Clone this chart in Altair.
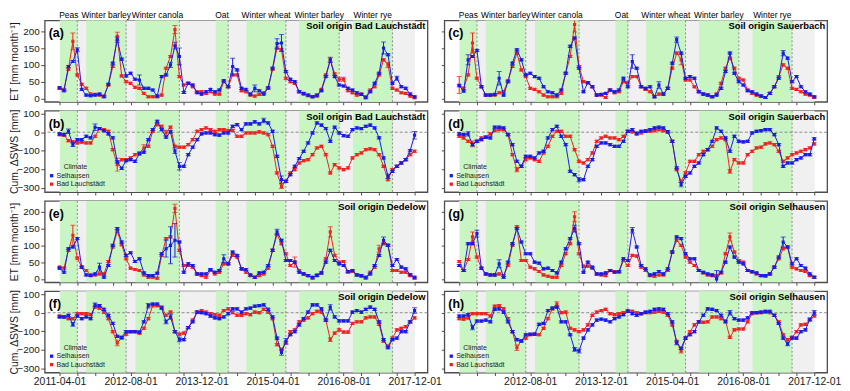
import altair as alt
import pandas as pd

# ---------------- layout / style constants ----------------
W, H = 386, 82
BLUE = "#1a1ae6"
RED = "#ee2222"
GREEN = "#c8f5c2"
GREY_BAND = "#f0f0f0"
FONT = "Liberation Sans"

# ---------------- axes ----------------
MONTHS = list(range(81))            # month index, 0 = 2011-04
X_DOMAIN = [-3.35, 82.9]
X_TICKS = list(range(0, 81, 4))
DATE_POS = [0, 16, 32, 48, 64, 80]
DATE_LABELS = ["2011-04-01", "2012-08-01", "2013-12-01", "2015-04-01", "2016-08-01", "2017-12-01"]
ET_DOMAIN = [-10, 232]
SWS_DOMAIN = [-323, 116]
ET_TICKS = [0, 50, 100, 150, 200]
SWS_TICKS = [-300, -200, -100, 0, 100]

# ---------------- crop periods ----------------
CROPS = ["Peas", "Winter barley", "Winter canola", "Oat", "Winter wheat", "Winter barley", "Winter rye"]
CROP_START = [0.15, 6, 17.1, 35.2, 42.1, 54, 66.1]
CROP_END = [4, 15, 27, 38, 51, 63, 75]
SEASON = [0, 80.1]
CLIMATES = ["Selhausen", "Bad Lauchstädt"]

# ---------------- data (Selhausen climate = blue, Bad Lauchstädt climate = red) ----------------
a_sel = [32, 23, 95, 110, 145, 27, 10, 8, 10, 13, 5,
         42, 105, 175, 117, 67, 75, 57, 55, 30, 30,
         25, 7, 65, 70, 100, 157, 125, 18, 45, 40,
         17, 13, 20, 27, 20, 25, 53, 35, 95, 85,
         30, 27, 13, 30, 23, 13, 32, 90, 163, 165,
         80, 57, 50, 20, 15, 10, 5, 10, 23, 65,
         115, 65, 40, 37, 30, 25, 17, 12, 2, 20,
         45, 75, 150, 130, 45, 60, 35, 30, 13, 5]
a_bad = [30, 27, 87, 170, 70, 42, 30, 13, 12, 10, 7,
         40, 95, 185, 67, 50, 45, 33, 30, 15, 5,
         5, 5, 10, 90, 125, 205, 65, 40, 45, 35,
         20, 20, 15, 20, 13, 13, 50, 35, 70, 70,
         23, 20, 10, 7, 12, 17, 30, 87, 150, 145,
         60, 50, 45, 20, 13, 8, 5, 7, 27, 70,
         115, 73, 57, 57, 23, 17, 10, 13, 5, 25,
         35, 70, 115, 100, 30, 25, 17, 15, 7, 2]
b_sel = [-9, -13, 5, -67, -40, -40, -22, -30, 27, 20, 9,
         -9, -30, -160, -195, -153, -148, -157, -117, -108, -40,
         14, 59, 14, -27, 2, -103, -184, -184, -121, -81,
         -40, -9, -4, -4, -13, -16, -4, -4, 32, 41,
         14, 45, 45, 56, 45, 63, 50, 5, -130, -256,
         -265, -229, -184, -142, -103, -58, -4, 50, 38, 20,
         -49, 27, -4, -18, -22, 14, 23, 20, 32, 38,
         23, -30, -139, -238, -211, -184, -166, -148, -99, -16]
b_bad = [-13, -16, -45, -52, -58, -54, -58, -58, -22, 20, 14,
         5, -94, -175, -148, -148, -139, -121, -112, -85, -76,
         5, 41, 32, -4, 27, -76, -81, -81, -67, -40,
         5, 14, 23, 14, 5, 14, 14, 9, 10, -22,
         -22, -4, -4, -4, 2, -4, -13, -76, -220, -292,
         -265, -220, -202, -166, -153, -148, -121, -85, -76, -121,
         -220, -175, -193, -202, -193, -139, -121, -112, -94, -90,
         -94, -121, -184, -256, -202, -184, -166, -148, -121, -103]
c_sel = [38, 22, 115, 125, 143, 35, 10, 10, 12, 60, 10,
         50, 105, 145, 115, 70, 75, 65, 60, 35, 20,
         17, 10, 25, 75, 155, 180, 90, 20, 47, 35,
         10, 12, 15, 25, 20, 25, 60, 35, 110, 90,
         35, 30, 35, 5, 40, 13, 30, 105, 175, 135,
         60, 65, 60, 20, 13, 10, 5, 10, 30, 80,
         135, 75, 50, 40, 23, 20, 13, 7, 3, 15,
         35, 60, 135, 120, 50, 65, 35, 20, 13, 5]
c_bad = [40, 30, 70, 165, 60, 35, 10, 10, 10, 17, 20,
         53, 95, 135, 85, 65, 30, 27, 20, 10, 5,
         5, 5, 15, 75, 125, 220, 95, 50, 47, 35,
         10, 10, 3, 25, 17, 20, 50, 47, 65, 65,
         35, 27, 20, 5, 13, 13, 30, 90, 135, 115,
         55, 55, 35, 20, 13, 10, 5, 13, 45, 90,
         120, 90, 60, 55, 25, 15, 10, 7, 3, 15,
         35, 65, 100, 90, 30, 27, 20, 13, 10, 3]
d_sel = [-9, -13, -9, -67, -49, -40, -27, -31, 27, 27, 23,
         -13, -67, -157, -184, -130, -130, -139, -112, -103, -31,
         14, 32, -22, -67, -211, -229, -256, -256, -184, -148,
         -76, -58, -58, -67, -76, -76, -49, 5, 14, -9,
         5, 5, 14, 23, 27, 23, 2, -49, -193, -283,
         -238, -220, -184, -166, -121, -94, -49, 23, 5, -31,
         -103, -22, -49, -52, -49, -4, 5, 9, 14, 14,
         -13, -67, -184, -166, -166, -148, -139, -121, -121, -36]
d_bad = [-22, -31, -49, -63, -49, -31, -27, -9, 9, 14, 14,
         -13, -121, -202, -184, -148, -139, -148, -157, -112, -76,
         -22, 5, 5, -22, -22, -94, -157, -166, -148, -112,
         -49, -31, -22, -31, -31, -40, -22, 5, 2, -4,
         -4, 9, 5, 9, 14, 9, 2, -49, -202, -265,
         -220, -157, -157, -121, -103, -94, -76, -40, -31, -40,
         -211, -148, -166, -166, -121, -103, -85, -81, -63, -58,
         -67, -103, -157, -139, -121, -112, -103, -94, -85, -63]
e_sel = [32, 20, 90, 95, 120, 35, 12, 10, 15, 35, 5,
         40, 100, 150, 110, 70, 78, 52, 60, 18, 10,
         10, 17, 75, 90, 100, 115, 110, 20, 45, 40,
         15, 15, 15, 28, 20, 25, 60, 45, 80, 70,
         30, 28, 12, 5, 18, 20, 40, 85, 140, 115,
         55, 55, 50, 20, 15, 10, 5, 10, 18, 50,
         85, 55, 45, 40, 22, 25, 12, 10, 5, 15,
         40, 70, 115, 100, 40, 58, 35, 30, 13, 5]
e_bad = [35, 32, 85, 130, 62, 35, 25, 12, 12, 15, 15,
         52, 95, 142, 102, 60, 32, 28, 25, 12, 5,
         5, 2, 70, 120, 125, 210, 85, 40, 40, 35,
         15, 10, 5, 25, 15, 20, 45, 45, 70, 65,
         30, 20, 10, 5, 10, 15, 32, 85, 132, 105,
         75, 40, 50, 25, 15, 10, 2, 12, 18, 60,
         140, 70, 50, 52, 20, 22, 12, 8, 2, 20,
         35, 90, 105, 100, 25, 25, 20, 20, 10, 2]
f_sel = [-23, -23, -14, -63, -18, -32, -23, -32, 42, 38, 18,
         -14, -58, -128, -133, -102, -102, -102, -105, -49, 38,
         47, 47, 25, -49, -23, -102, -145, -145, -80, -49,
         3, 0, -5, -18, -28, -32, -23, -5, 21, 21,
         3, 21, 25, 35, 38, 42, 18, -23, -137, -215,
         -154, -119, -102, -66, -32, 3, 42, 42, 21, -40,
         30, -23, -44, -44, -44, 3, 12, 3, 18, 30,
         18, -49, -145, -189, -145, -137, -102, -102, -49, 12]
f_bad = [-18, -23, -32, -32, -5, -5, -5, -10, 30, 25, 3,
         -32, -102, -163, -137, -116, -102, -102, -110, -84, -32,
         38, 38, 30, -14, 3, -102, -116, -110, -80, -40,
         3, 12, 3, -5, -10, -14, 12, 21, 0, -14,
         -14, -5, -10, 3, 0, 18, 3, -32, -172, -198,
         -163, -102, -93, -49, -40, -28, -5, 7, 3, -40,
         -145, -110, -93, -105, -105, -58, -49, -49, -28, -23,
         -23, -63, -154, -180, -137, -93, -84, -75, -49, -28]
g_sel = [40, 25, 105, 105, 135, 32, 15, 12, 12, 45, 5,
         50, 105, 150, 110, 75, 75, 50, 47, 30, 32,
         25, 18, 50, 90, 120, 150, 105, 20, 50, 35,
         15, 15, 18, 25, 20, 22, 60, 55, 145, 95,
         40, 30, 12, 15, 22, 15, 30, 80, 125, 120,
         75, 60, 60, 25, 20, 15, 12, 0, 20, 50,
         95, 65, 50, 45, 25, 22, 18, 10, 10, 15,
         35, 65, 110, 95, 45, 60, 40, 32, 15, 5]
g_bad = [52, 25, 58, 125, 65, 32, 15, 12, 12, 15, 10,
         40, 100, 155, 55, 55, 35, 30, 22, 12, 8,
         5, 5, 40, 75, 105, 185, 75, 38, 38, 32,
         15, 12, 10, 25, 22, 20, 55, 40, 70, 68,
         35, 25, 10, 8, 12, 12, 25, 80, 115, 100,
         65, 50, 40, 25, 18, 12, 10, 10, 18, 75,
         125, 80, 55, 50, 25, 20, 15, 10, 8, 15,
         35, 60, 90, 95, 35, 30, 25, 22, 10, 5]
h_sel = [-18, -18, -10, -80, -45, -45, -40, -49, 18, 21, 3,
         -49, -102, -145, -154, -119, -116, -116, -63, -58, 12,
         25, 30, -49, -49, -119, -198, -207, -137, -93, -66,
         -40, -35, -40, -49, -32, -23, -10, 7, -5, -14,
         -5, 3, 7, 18, 21, 18, -5, -49, -163, -192,
         -137, -119, -102, -49, -14, 21, 18, 12, -14, -49,
         0, -32, -40, -40, -28, 0, 0, 3, 7, 7,
         -14, -58, -137, -168, -137, -137, -102, -93, -35, 0]
h_bad = [-32, -35, -28, -5, -5, -5, -5, -18, 35, 38, 21,
         -32, -102, -189, -150, -137, -119, -116, -119, -84, -32,
         21, 47, 0, 3, -84, -93, -102, -93, -66, -14,
         3, 12, 18, -5, -10, -5, 0, 12, 7, 0,
         -5, 0, 0, 3, 7, 3, -14, -66, -154, -207,
         -137, -102, -66, -49, -52, -49, -23, -23, -32, -45,
         -133, -93, -88, -88, -49, -5, 0, 0, 3, 0,
         -14, -49, -119, -145, -133, -102, -66, -63, -40, -18]

# error half-widths: typical value plus the larger ones
ET_ERR = 3
SWS_ERR = 6
a_sel_err = {4: 6, 13: 8, 18: 15, 25: 8, 26: 10, 27: 25, 39: 25, 44: 10, 49: 15, 50: 25, 61: 8, 73: 18, 76: 6}
a_bad_err = {3: 25, 13: 12, 26: 12, 61: 6, 63: 6, 64: 6, 74: 8}
b_sel_err = {2: 12, 3: 10, 8: 18, 26: 12, 27: 20, 46: 12, 50: 20, 74: 12, 80: 20}
b_bad_err = {13: 35, 19: 18, 24: 15, 50: 12}
c_sel_err = {2: 15, 9: 20, 39: 20, 45: 10, 49: 8, 73: 8}
c_bad_err = {0: 25, 3: 30, 26: 22, 50: 15}
d_sel_err = {2: 12, 27: 12, 50: 12}
d_bad_err = {3: 15, 13: 12, 61: 10}
e_sel_err = {9: 12, 24: 25, 25: 55, 26: 50, 37: 12, 49: 8, 73: 10}
e_bad_err = {3: 30, 26: 12, 53: 15, 61: 15, 72: 10}
f_sel_err = {3: 10, 8: 10, 20: 12, 24: 10, 25: 12, 27: 12, 50: 15, 51: 15, 61: 15, 80: 15}
f_bad_err = {13: 15, 61: 10}
g_sel_err = {4: 10, 9: 12, 26: 10, 39: 8, 58: 25, 73: 15}
g_bad_err = {3: 15, 26: 15, 61: 12}
h_sel_err = {3: 12, 26: 10, 27: 10, 49: 10, 61: 12, 74: 10, 80: 12}
h_bad_err = {13: 15, 22: 12, 50: 10}


def label_expr(skip_first):
    parts = []
    for p, lab in zip(DATE_POS, DATE_LABELS):
        if skip_first and p == 0:
            continue
        parts.append(f"datum.value == {p} ? '{lab}'")
    return " : ".join(parts) + " : ''"


def series_df(vals, errs, default_err):
    return pd.DataFrame({
        "i": MONTHS,
        "v": vals,
        "err": [errs.get(k, default_err) for k in MONTHS],
    })


def panel(letter, soil, kind, sel, bad, sel_err, bad_err, left, top, bottom, skip_first=False):
    is_et = kind == "ET"
    ydom = ET_DOMAIN if is_et else SWS_DOMAIN
    yticks = ET_TICKS if is_et else SWS_TICKS
    ytitle = "ET [mm month⁻¹]" if is_et else "Cum. ΔSWS [mm]"
    default_err = ET_ERR if is_et else SWS_ERR

    if bottom:
        xaxis = alt.Axis(values=X_TICKS, labelExpr=label_expr(skip_first), labelFlush=False,
                         labelOverlap=False, tickSize=3, labelPadding=1, labelFontSize=10.5,
                         domain=False, grid=False)
    else:
        xaxis = alt.Axis(values=X_TICKS, labels=False, tickSize=3, domain=False, grid=False)
    if left:
        yaxis = alt.Axis(values=yticks, title=ytitle, labelFontSize=10, titleFontSize=10.5,
                         tickSize=4, labelPadding=1.5, titlePadding=1, minExtent=24.5,
                         maxExtent=24.5, domain=False, grid=False)
    else:
        yaxis = alt.Axis(values=yticks, labels=False, title=None, tickSize=3,
                         domain=False, grid=False)

    xscale = alt.Scale(domain=X_DOMAIN, nice=False, zero=False)
    yscale = alt.Scale(domain=ydom, nice=False, zero=False)

    def X(f):
        return alt.X(f, type="quantitative", scale=xscale, axis=xaxis, title=None)

    def Y(f):
        return alt.Y(f, type="quantitative", scale=yscale, axis=yaxis)

    season = pd.DataFrame({"x0": [SEASON[0]], "x1": [SEASON[1]]})
    crops = pd.DataFrame({"crop": CROPS, "x0": CROP_START, "x1": CROP_END})

    layers = [
        alt.Chart(season).mark_rect(color=GREY_BAND).encode(
            x=X("x0"), x2="x1", y=alt.value(0), y2=alt.value(H)),
        alt.Chart(crops).mark_rect(color=GREEN).encode(
            x=X("x0"), x2="x1", y=alt.value(0), y2=alt.value(H)),
        alt.Chart(crops).mark_rule(color="#808080", strokeDash=[2, 2], strokeWidth=0.9).encode(
            x=X("x1")),
    ]
    if not is_et:
        layers.append(
            alt.Chart(pd.DataFrame({"v": [0]})).mark_rule(
                color="#808080", strokeDash=[3, 2], strokeWidth=0.9).encode(y=Y("v")))

    for vals, errs, color in [(bad, bad_err, RED), (sel, sel_err, BLUE)]:
        base = alt.Chart(series_df(vals, errs, default_err)).transform_calculate(
            lo="datum.v - datum.err", hi="datum.v + datum.err")
        layers += [
            base.mark_rule(color=color, strokeWidth=1, clip=True).encode(
                x=X("i"), y=Y("lo"), y2="hi"),
            base.mark_tick(color=color, orient="horizontal", size=5, thickness=1, clip=True).encode(
                x=X("i"), y=Y("lo")),
            base.mark_tick(color=color, orient="horizontal", size=5, thickness=1, clip=True).encode(
                x=X("i"), y=Y("hi")),
            base.mark_line(color=color, strokeWidth=1.0, clip=True).encode(
                x=X("i"), y=Y("v")),
            base.mark_square(color=color, size=10, opacity=1, clip=True).encode(
                x=X("i"), y=Y("v")),
        ]

    layers.append(
        alt.Chart(pd.DataFrame({"t": [f"({letter})"]})).mark_text(
            align="left", baseline="alphabetic", fontSize=12.5, fontWeight="bold",
            font=FONT, color="black").encode(text="t:N", x=alt.value(4), y=alt.value(17)))
    layers.append(
        alt.Chart(pd.DataFrame({"t": [f"Soil origin {soil}"]})).mark_text(
            align="right", baseline="alphabetic", fontSize=9.5, fontWeight="bold",
            font=FONT, color="black").encode(text="t:N", x=alt.value(W - 2), y=alt.value(9)))

    if top:
        layers.append(
            alt.Chart(crops).transform_calculate(mid="(datum.x0 + datum.x1) / 2").mark_text(
                baseline="alphabetic", fontSize=8.5, font=FONT, color="black").encode(
                x=X("mid"), y=alt.value(-2.5), text="crop:N"))

    if not is_et:
        layers += [
            alt.Chart(pd.DataFrame({"t": ["Climate"]})).mark_text(
                fontSize=7, font=FONT, color="#222").encode(
                text="t:N", x=alt.value(31), y=alt.value(H - 25)),
            alt.Chart(pd.DataFrame({"t": [CLIMATES[0]]})).mark_square(
                color=BLUE, size=11, opacity=1).encode(x=alt.value(7), y=alt.value(H - 16.5)),
            alt.Chart(pd.DataFrame({"t": [CLIMATES[0]]})).mark_text(
                align="left", baseline="middle", fontSize=7, font=FONT, color="#222").encode(
                text="t:N", x=alt.value(12), y=alt.value(H - 16.5)),
            alt.Chart(pd.DataFrame({"t": [CLIMATES[1]]})).mark_square(
                color=RED, size=11, opacity=1).encode(x=alt.value(7), y=alt.value(H - 8)),
            alt.Chart(pd.DataFrame({"t": [CLIMATES[1]]})).mark_text(
                align="left", baseline="middle", fontSize=7, font=FONT, color="#222").encode(
                text="t:N", x=alt.value(12), y=alt.value(H - 8)),
        ]

    return alt.layer(*layers).properties(width=W, height=H)


pa = panel("a", "Bad Lauchstädt", "ET", a_sel, a_bad, a_sel_err, a_bad_err, True, True, False)
pc = panel("c", "Sauerbach", "ET", c_sel, c_bad, c_sel_err, c_bad_err, False, True, False)
pb = panel("b", "Bad Lauchstädt", "SWS", b_sel, b_bad, b_sel_err, b_bad_err, True, False, False)
pd_ = panel("d", "Sauerbach", "SWS", d_sel, d_bad, d_sel_err, d_bad_err, False, False, False)
pe = panel("e", "Dedelow", "ET", e_sel, e_bad, e_sel_err, e_bad_err, True, False, False)
pg = panel("g", "Selhausen", "ET", g_sel, g_bad, g_sel_err, g_bad_err, False, False, False)
pf = panel("f", "Dedelow", "SWS", f_sel, f_bad, f_sel_err, f_bad_err, True, False, True)
ph = panel("h", "Selhausen", "SWS", h_sel, h_bad, h_sel_err, h_bad_err, False, False, True, skip_first=True)

chart = alt.concat(
    pa, pc, pb, pd_, pe, pg, pf, ph,
    columns=2, spacing={"row": 9, "column": 17}, bounds="flush",
).properties(padding=0, background="white").configure_view(
    stroke="#4d4d4d", strokeWidth=1.3
).configure_axis(
    labelFont=FONT, titleFont=FONT, labelColor="#1a1a1a", titleColor="#1a1a1a",
    tickColor="#4d4d4d", titleFontWeight="normal"
)

chart.save("out.html", embed_options={"renderer": "svg", "actions": False})
